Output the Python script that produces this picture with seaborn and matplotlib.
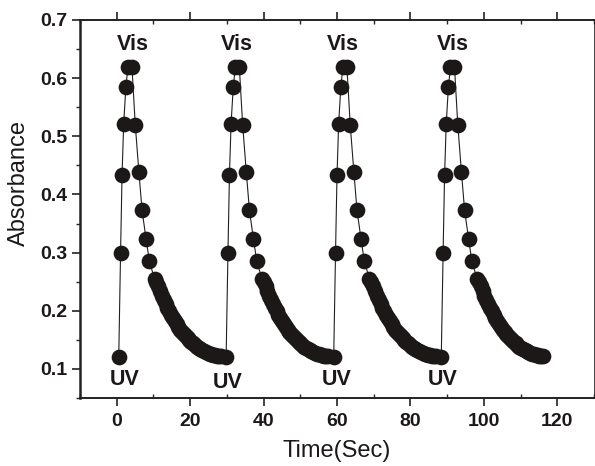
import numpy as np
import pandas as pd
import matplotlib
matplotlib.use("Agg")
import matplotlib.pyplot as plt
from matplotlib.ticker import MultipleLocator, FormatStrFormatter
import seaborn as sns

# Time (s) at which each UV exposure starts
cycle_start = [0.55, 29.8, 59.1, 88.4]

# One switching cycle: time after UV start (s) and measured absorbance
cycle_offset = [0.0, 0.5, 0.9, 1.35, 1.95, 2.5, 3.6, 4.5, 5.5, 6.35, 7.45, 8.35, 9.75,
                10.25, 10.75, 11.25, 11.75, 12.25, 12.75, 13.25, 13.75, 14.25, 14.75,
                15.25, 15.75, 16.25, 16.75, 17.25, 17.75, 18.25, 18.75, 19.25, 19.75,
                20.25, 20.75, 21.25, 21.75, 22.25, 22.75, 23.25, 23.75, 24.25, 24.75,
                25.25, 25.75, 26.25, 26.75, 27.25, 27.75]
cycle_abs = [0.120, 0.300, 0.433, 0.522, 0.585, 0.619, 0.619, 0.520, 0.438, 0.373, 0.323,
             0.285, 0.255,
             0.249, 0.242, 0.234, 0.226, 0.219, 0.212, 0.205, 0.199, 0.193, 0.188,
             0.182, 0.177, 0.172, 0.167, 0.163, 0.160, 0.156, 0.153, 0.150, 0.147,
             0.144, 0.141, 0.138, 0.136, 0.134, 0.132, 0.130, 0.129, 0.127, 0.126,
             0.125, 0.124, 0.1235, 0.123, 0.1225, 0.122]

vis_x = [4.4, 32.6, 61.7, 91.6]
vis_y = [0.6485, 0.6485, 0.6485, 0.6485]
uv_x = [2.3, 30.2, 59.8, 88.9]
uv_y = [0.0725, 0.0674, 0.0725, 0.0725]

x_ticks = [0, 20, 40, 60, 80, 100, 120]
y_ticks = [0.1, 0.2, 0.3, 0.4, 0.5, 0.6, 0.7]

time = [t0 + dt for t0 in cycle_start for dt in cycle_offset]
absorbance = [a for _ in cycle_start for a in cycle_abs]
df = pd.DataFrame({"Time(Sec)": time, "Absorbance": absorbance})

sns.set_theme(style="ticks")
plt.rcParams["font.family"] = ["Liberation Sans", "DejaVu Sans"]

ink = "#1c1818"
fig = plt.figure(figsize=(5.95, 4.66), dpi=100)
ax = fig.add_axes([80 / 595, 1 - 398 / 466, 514 / 595, 378 / 466])

sns.lineplot(data=df, x="Time(Sec)", y="Absorbance", ax=ax, color="#202020",
             linewidth=0.8, sort=False, estimator=None, zorder=2)
sns.scatterplot(data=df, x="Time(Sec)", y="Absorbance", ax=ax, color=ink,
                s=128, linewidth=0, zorder=3)

for x, y in zip(vis_x, vis_y):
    ax.text(x, y, "Vis", ha="center", va="baseline", fontsize=15.5,
            fontweight="bold", color=ink)
for x, y in zip(uv_x, uv_y):
    ax.text(x, y, "UV", ha="center", va="baseline", fontsize=15.5,
            fontweight="bold", color=ink)

ax.set_xlim(-10, 130)
ax.set_ylim(0.05, 0.7)
ax.set_xticks(x_ticks)
ax.set_yticks(y_ticks)
ax.yaxis.set_major_formatter(FormatStrFormatter("%.1f"))
ax.xaxis.set_minor_locator(MultipleLocator(10))
ax.yaxis.set_minor_locator(MultipleLocator(0.05))

for side in ["left", "bottom", "top", "right"]:
    ax.spines[side].set_visible(True)
    ax.spines[side].set_color("#222222")
ax.spines["left"].set_linewidth(1.8)
ax.spines["bottom"].set_linewidth(1.4)
ax.spines["top"].set_linewidth(1.4)
ax.spines["right"].set_linewidth(0.6)

ax.tick_params(axis="y", which="major", direction="out", length=6, width=1.2,
               labelsize=14, pad=3, colors="#222222")
ax.tick_params(axis="y", which="minor", direction="out", length=3, width=1.0)
ax.tick_params(axis="x", which="major", direction="out", length=6, width=1.2,
               labelsize=14, pad=5, colors="#222222", top=True)
ax.tick_params(axis="x", which="minor", direction="in", length=3, width=1.0, top=True)
for lbl in ax.get_xticklabels() + ax.get_yticklabels():
    lbl.set_fontweight("bold")
    lbl.set_color(ink)

ax.set_xlabel("Time(Sec)", fontsize=17, color=ink, labelpad=7)
ax.set_ylabel("Absorbance", fontsize=17, color=ink)
ax.yaxis.set_label_coords(-0.097, 0.569)

fig.savefig("out.png", dpi=100, facecolor="white")
